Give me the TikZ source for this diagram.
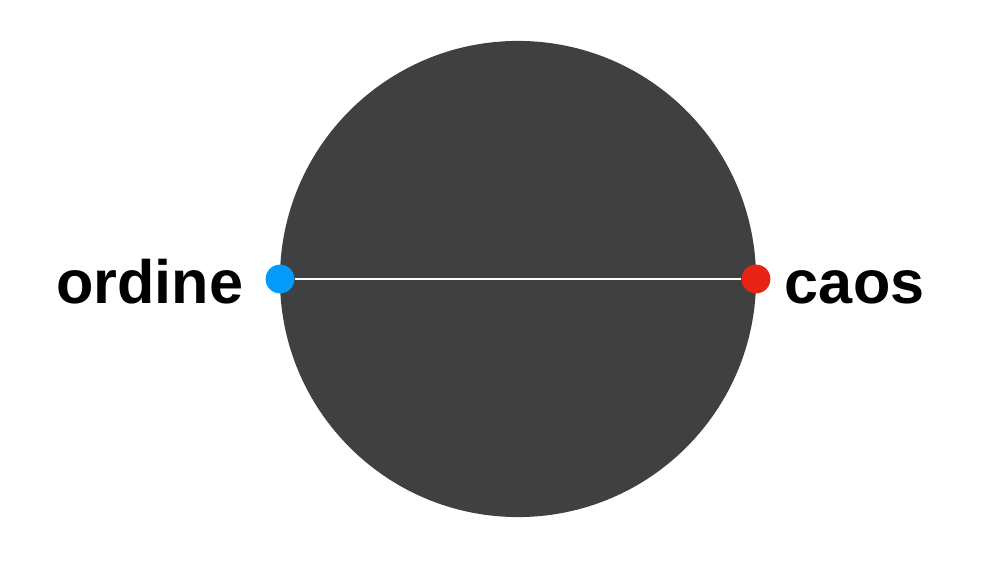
\documentclass[tikz,border=0pt]{standalone}
\usepackage{fontspec}
\setmainfont{Liberation Sans}
\usetikzlibrary{positioning}
\definecolor{disk}{RGB}{64,64,64}
\definecolor{ordc}{RGB}{5,155,252}
\definecolor{caoc}{RGB}{230,35,20}
\begin{document}
\begin{tikzpicture}[x=0.025cm,y=-0.025cm,node distance=2mm and 4mm,
  disk/.style={circle,fill=disk,minimum size=11.9cm,inner sep=0},
  dot/.style={circle,minimum size=0.72cm,inner sep=0},
  lbl/.style={inner sep=0,font=\fontsize{43.5}{48}\selectfont\bfseries,text height=1.22cm,text depth=0pt}]
  \useasboundingbox (0,0) rectangle (999,565);
  \node[disk] (d) at (518,279) {};
  \node[dot,fill=ordc] (ord) at (280,279) {};
  \node[dot,fill=caoc] (cao) at (756,279) {};
  \draw[white,line width=1.6pt] (ord) -- (cao);
  \node[lbl,left=0.55cm of ord] (ordt) {ordine};
  \node[lbl,right=0.35cm of cao] (caot) {caos};
\end{tikzpicture}
\end{document}
